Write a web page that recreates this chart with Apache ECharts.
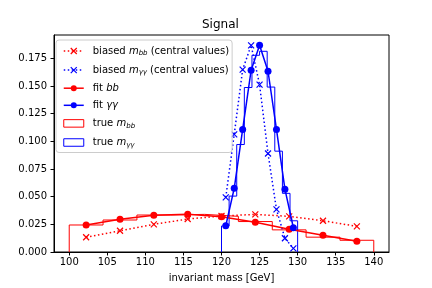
<!DOCTYPE html>
<html><head><meta charset="utf-8">
<script src="https://cdn.jsdelivr.net/npm/echarts@6/dist/echarts.min.js"></script>
<style>html,body{margin:0;padding:0;background:#fff}#c{width:432px;height:288px}</style>
</head><body><div id="c"></div>
<script>
// ---- data ----
const bbCenters = [102.22,106.67,111.11,115.56,120.00,124.44,128.89,133.33,137.78];
const ggCenters = [120.56,121.67,122.78,123.89,125.00,126.11,127.22,128.33,129.44];
const biasedBB = [0.0133,0.0192,0.0250,0.0298,0.0325,0.0340,0.0322,0.0282,0.0232];
const biasedGG = [0.0493,0.1062,0.1648,0.1867,0.1512,0.0890,0.0385,0.0124,0.0033];
const fitBB = [0.0244,0.0295,0.0332,0.0341,0.0318,0.0269,0.0206,0.0152,0.0097];
const fitGG = [0.0237,0.0575,0.1107,0.1642,0.1867,0.1633,0.1107,0.0568,0.0219];
const trueBBEdges = [100,104.44,108.89,113.33,117.78,122.22,126.67,131.11,135.56,140];
const trueBB = [0.0244,0.0289,0.0334,0.0340,0.0322,0.0275,0.0200,0.0134,0.0106];
const trueGGEdges = [120,121,122,123,124,125,126,127,128,129,130];
const trueGG = [0.0235,0.0505,0.0971,0.1486,0.1777,0.1813,0.1490,0.0911,0.0530,0.0282];
const xTicks = [100,105,110,115,120,125,130,135,140];
const yTicks = [0,0.025,0.05,0.075,0.1,0.125,0.15,0.175];

const FONT = 'DejaVu Sans';
const RED = '#ff0000', BLUE = '#0000ff';
const xMin = 100 - 0.05*40, xMax = 140 + 0.05*40;
const yMax = 1.05*Math.max(...biasedBB,...biasedGG,...fitBB,...fitGG,...trueBB,...trueGG);
const pairs = (xs, ys) => xs.map((x,i)=>[x, ys[i]]);
function stepPts(edges, vals){
  const p=[[edges[0],0]];
  vals.forEach((v,i)=>{p.push([edges[i],v]);p.push([edges[i+1],v]);});
  p.push([edges[edges.length-1],0]);
  return p;
}
const XSYM = 'path://M0,0L10,10M10,0L0,10';
const dotted = [1.5,2.5];

const labels = {
  'biasedBB': '{n|biased }{i|m}{s|bb}{n| (central values)}',
  'biasedGG': '{n|biased }{i|m}{s|γγ}{n| (central values)}',
  'fitBB': '{n|fit }{i|bb}',
  'fitGG': '{n|fit }{i|γγ}',
  'trueBB': '{n|true }{i|m}{s|bb}',
  'trueGG': '{n|true }{i|m}{s|γγ}'
};

const chart = echarts.init(document.getElementById('c'), null, {renderer:'canvas'});
chart.setOption({
  animation:false,
  backgroundColor:'#fff',
  textStyle:{fontFamily:FONT},
  title:{text:'Signal', left:202, top:19, padding:0,
    textStyle:{fontFamily:FONT, fontSize:12, fontWeight:'normal', color:'#000'}},
  grid:{left:54, right:43, top:35, bottom:36, show:true, borderColor:'#000', borderWidth:1, backgroundColor:'transparent'},
  xAxis:{type:'value', min:xMin, max:xMax,
    name:'invariant mass [GeV]', nameLocation:'middle', nameGap:21,
    nameTextStyle:{fontFamily:FONT, fontSize:10, color:'#000'},
    axisLine:{show:true, lineStyle:{color:'#000', width:1}},
    axisTick:{show:true, length:3.5, lineStyle:{color:'#000'}, customValues:xTicks},
    axisLabel:{fontFamily:FONT, fontSize:10, color:'#000', margin:5, customValues:xTicks},
    splitLine:{show:false}},
  yAxis:{type:'value', min:0, max:yMax,
    axisLine:{show:true, lineStyle:{color:'#000', width:1}},
    axisTick:{show:true, length:3.5, lineStyle:{color:'#000'}, customValues:yTicks},
    axisLabel:{fontFamily:FONT, fontSize:10, color:'#000', margin:7, customValues:yTicks,
      formatter:v=>v.toFixed(3)},
    splitLine:{show:false}},
  legend:{
    orient:'vertical', left:56, top:40, padding:[5,3,4,7],
    itemWidth:20, itemHeight:7.5, itemGap:7.1,
    backgroundColor:'rgba(255,255,255,0.8)', borderColor:'#cccccc', borderWidth:1, borderRadius:3,
    lineStyle:{width:1.5},
    textStyle:{fontFamily:FONT, fontSize:10, color:'#000', padding:[0,0,0,4],
      rich:{
        n:{fontFamily:FONT, fontSize:10, color:'#000', lineHeight:14},
        i:{fontFamily:FONT, fontSize:10, color:'#000', fontStyle:'italic', lineHeight:14},
        s:{fontFamily:FONT, fontSize:7, color:'#000', fontStyle:'italic', lineHeight:9, padding:[5,0,0,0]}
      }},
    formatter:n=>labels[n],
    data:[
      {name:'biasedBB', itemStyle:{borderWidth:1.2, borderColor:RED}},
      {name:'biasedGG', itemStyle:{borderWidth:1.2, borderColor:BLUE}},
      {name:'fitBB', itemStyle:{borderWidth:0}},
      {name:'fitGG', itemStyle:{borderWidth:0}},
      {name:'trueBB', icon:'rect', itemStyle:{color:'rgba(0,0,0,0)', borderColor:RED, borderWidth:1}},
      {name:'trueGG', icon:'rect', itemStyle:{color:'rgba(0,0,0,0)', borderColor:BLUE, borderWidth:1}}
    ]
  },
  series:[
    {name:'trueBB', type:'line', data:stepPts(trueBBEdges,trueBB), symbol:'none', z:2,
      lineStyle:{color:RED, width:1}, itemStyle:{color:RED}},
    {name:'trueGG', type:'line', data:stepPts(trueGGEdges,trueGG), symbol:'none', z:2,
      lineStyle:{color:BLUE, width:1}, itemStyle:{color:BLUE}},
    {name:'biasedBB', type:'line', data:pairs(bbCenters,biasedBB), symbol:XSYM, symbolSize:6, z:3,
      lineStyle:{color:RED, width:1.5, type:dotted}, itemStyle:{color:RED, borderColor:RED, borderWidth:1.2}},
    {name:'biasedGG', type:'line', data:pairs(ggCenters,biasedGG), symbol:XSYM, symbolSize:6, z:3,
      lineStyle:{color:BLUE, width:1.5, type:dotted}, itemStyle:{color:BLUE, borderColor:BLUE, borderWidth:1.2}},
    {name:'fitBB', type:'line', data:pairs(bbCenters,fitBB), symbol:'circle', symbolSize:7, z:4,
      lineStyle:{color:RED, width:1.5}, itemStyle:{color:RED}},
    {name:'fitGG', type:'line', data:pairs(ggCenters,fitGG), symbol:'circle', symbolSize:7, z:4,
      lineStyle:{color:BLUE, width:1.5}, itemStyle:{color:BLUE}}
  ]
});
</script></body></html>
